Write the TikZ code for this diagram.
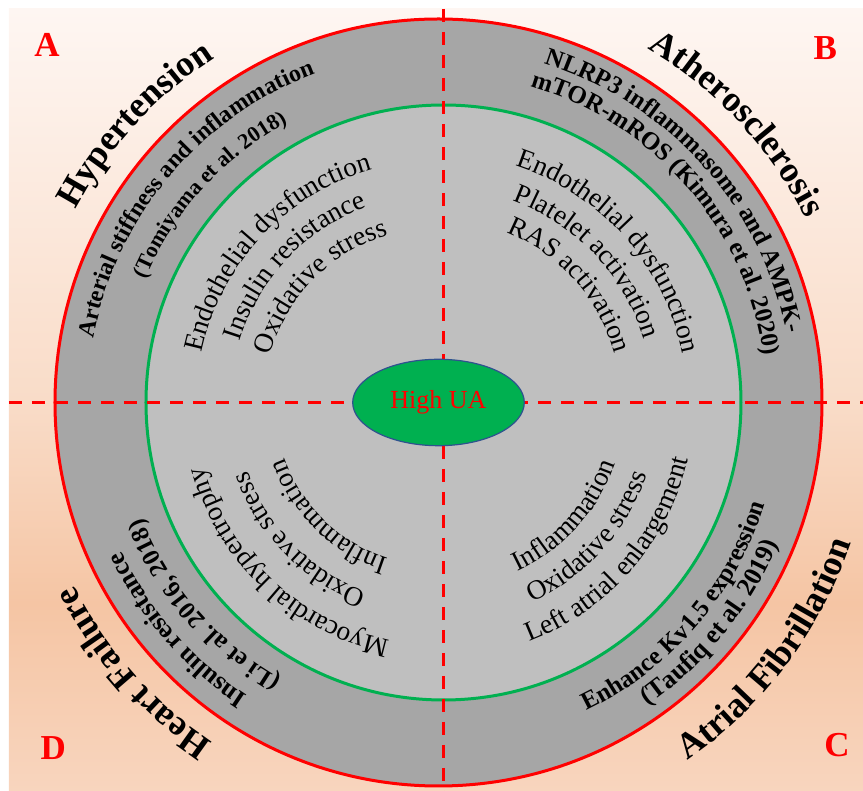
\documentclass[tikz,border=0pt]{standalone}
\usepackage{fontspec}
\setmainfont{Liberation Serif}
\usetikzlibrary{shapes.geometric,decorations.text}
\definecolor{ringgray}{HTML}{A6A6A6}
\definecolor{coregray}{HTML}{BFBFBF}
\definecolor{uagreen}{HTML}{00B050}
\definecolor{uablue}{HTML}{2F528F}
\definecolor{bgtop}{HTML}{FEF6F2}
\definecolor{bgmid}{HTML}{F9DCC8}
\definecolor{bgdeep}{HTML}{F5C5A4}
\definecolor{bgbot}{HTML}{F8D5BE}
\pgfdeclareverticalshading{peachbg}{100bp}{color(0bp)=(bgbot); color(25bp)=(bgbot); color(37bp)=(bgdeep); color(50bp)=(bgmid); color(75bp)=(bgtop); color(100bp)=(bgtop)}

\begin{document}
\begin{tikzpicture}[x=.5pt, y=.5pt, font=\rmfamily,
	letter/.style={text=red, font=\bfseries\fontsize{17.5}{17.5}\selectfont},
	curved/.style={decorate, decoration={text along path, text align=center, text={#1}}},
	axisline/.style={red, line width=1.5pt, dash pattern=on 6.5pt off 5pt}]
	%frame
	\useasboundingbox (-438.5,-388.5) rectangle (424.5,402.5);
	\shade[shading=peachbg] (-429.5,-388.5) rectangle (424.5,393.5);
	%rings
	\draw[red, line width=1.5pt, fill=ringgray] (0,0) circle[radius=383.5];
	\draw[uagreen, line width=1.5pt, fill=coregray] (5,0) circle[radius=297.5];
	%axes
	\coordinate (left) at (-429.5,0);
	\coordinate (right) at (424.5,0);
	\coordinate (top) at (4.8,393.5);
	\coordinate (bottom) at (4.8,-388.5);
	\draw[axisline] (left) -- (right);
	\draw[axisline] (top) -- (bottom);
	%centre
	\node[ellipse, draw=uablue, line width=.6pt, fill=uagreen, minimum width=85.8pt, minimum height=43.2pt, inner sep=0pt, text=red, font=\fontsize{13}{13}\selectfont] (ua) at (0,0) {High UA};
	%quadrant letters
	\node[letter] (qa) at (-391.5,357.5) {A};
	\node[letter] (qb) at (386.8,354.2) {B};
	\node[letter] (qc) at (398.5,-342.5) {C};
	\node[letter] (qd) at (-385.2,-345.8) {D};
	%diseases
	\path[curved={|\bfseries\fontsize{18}{18}\selectfont|Hypertension}] (187.5:411) arc[start angle=187.5, end angle=87.5, radius=411];
	\path[curved={|\bfseries\fontsize{18}{18}\selectfont|Atherosclerosis}] (93:411) arc[start angle=93, end angle=-7, radius=411];
	\path[curved={|\bfseries\fontsize{18}{18}\selectfont|Atrial Fibrillation}] (-87:436) arc[start angle=-87, end angle=13, radius=436];
	\path[curved={|\bfseries\fontsize{18}{18}\selectfont|Heart Failure}] (271.5:408) arc[start angle=271.5, end angle=171.5, radius=408];
	%mechanisms (grey ring)
	\path[curved={|\bfseries\fontsize{12}{12}\selectfont|Arterial stiffness and inflammation}] (190:351) arc[start angle=190, end angle=90, radius=351];
	\path[curved={|\bfseries\fontsize{11}{11}\selectfont|(Tomiyama et al. 2018)}] (187.8:318) arc[start angle=187.8, end angle=87.8, radius=318];
	\path[curved={|\bfseries\fontsize{12.5}{12.5}\selectfont|NLRP3 inflammasome and AMPK-}] (92:355) arc[start angle=92, end angle=-8, radius=355];
	\path[curved={|\bfseries\fontsize{12.5}{12.5}\selectfont|mTOR-mROS (Kimura et al. 2020)}] (91:329) arc[start angle=91, end angle=-9, radius=329];
	\path[curved={|\bfseries\fontsize{12.5}{12.5}\selectfont|Enhance Kv1.5 expression}] (-90.8:342) arc[start angle=-90.8, end angle=9.2, radius=342];
	\path[curved={|\bfseries\fontsize{13}{13}\selectfont|(Taufiq et al. 2019)}] (-89:368) arc[start angle=-89, end angle=11, radius=368];
	\path[curved={|\bfseries\fontsize{13}{13}\selectfont|Insulin resistance}] (271:350) arc[start angle=271, end angle=171, radius=350];
	\path[curved={|\bfseries\fontsize{12.5}{12.5}\selectfont|(Li et al. 2016, 2018)}] (270.8:318) arc[start angle=270.8, end angle=170.8, radius=318];
	%effects (inner disc)
	\path[curved={|\fontsize{13.75}{13.75}\selectfont|Endothelial dysfunction}] (187:242) arc[start angle=187, end angle=87, radius=242];
	\path[curved={|\fontsize{13.75}{13.75}\selectfont|Insulin resistance}] (186.5:208) arc[start angle=186.5, end angle=86.5, radius=208];
	\path[curved={|\fontsize{13.75}{13.75}\selectfont|Oxidative stress}] (185.5:175) arc[start angle=185.5, end angle=85.5, radius=175];
	\path[curved={|\fontsize{13.75}{13.75}\selectfont|Endothelial dysfunction}] (91.6:249) arc[start angle=91.6, end angle=-8.4, radius=249];
	\path[curved={|\fontsize{13.75}{13.75}\selectfont|Platelet activation}] (93.4:215) arc[start angle=93.4, end angle=-6.6, radius=215];
	\path[curved={|\fontsize{13.75}{13.75}\selectfont|RAS activation}] (91.8:183) arc[start angle=91.8, end angle=-8.2, radius=183];
	\path[curved={|\fontsize{13.75}{13.75}\selectfont|Inflammation}] (-92:187) arc[start angle=-92, end angle=8, radius=187];
	\path[curved={|\fontsize{13.75}{13.75}\selectfont|Oxidative stress}] (-92:221) arc[start angle=-92, end angle=8, radius=221];
	\path[curved={|\fontsize{13.75}{13.75}\selectfont|Left atrial enlargement}] (-91:256) arc[start angle=-91, end angle=9, radius=256];
	\path[curved={|\fontsize{13.75}{13.75}\selectfont|Myocardial hypertrophy}] (276.8:243) arc[start angle=276.8, end angle=176.8, radius=243];
	\path[curved={|\fontsize{13.75}{13.75}\selectfont|Oxidative stress}] (274.5:203) arc[start angle=274.5, end angle=174.5, radius=203];
	\path[curved={|\fontsize{13.75}{13.75}\selectfont|Inflammation}] (276:164) arc[start angle=276, end angle=176, radius=164];
\end{tikzpicture}
\end{document}
